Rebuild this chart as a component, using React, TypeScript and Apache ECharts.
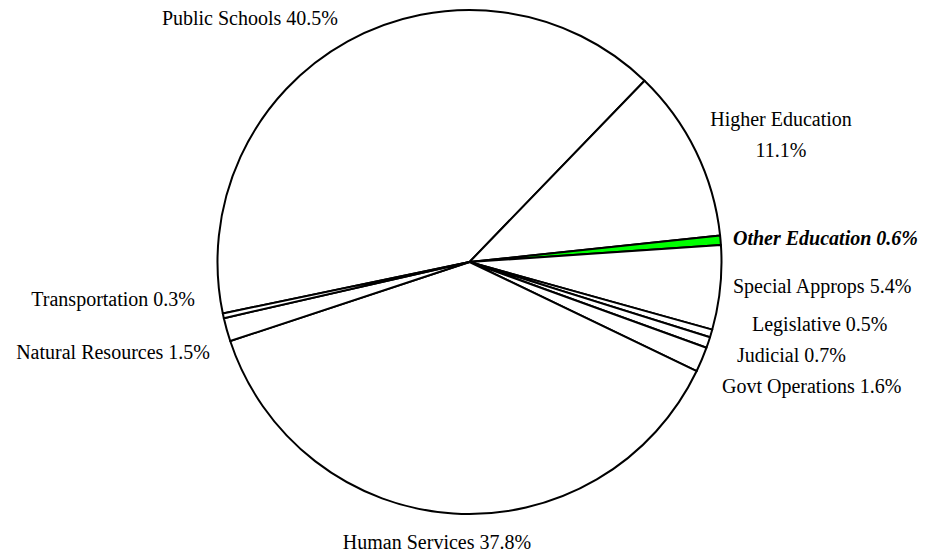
import React, { useEffect, useRef } from "react";
import * as echarts from "echarts";

// ---- data ----
const categories = [
  "Public Schools",
  "Higher Education",
  "Other Education",
  "Special Approps",
  "Legislative",
  "Judicial",
  "Govt Operations",
  "Human Services",
  "Natural Resources",
  "Transportation",
];
const shares = [40.5, 11.1, 0.6, 5.4, 0.5, 0.7, 1.6, 37.8, 1.5, 0.3];
const highlighted = "Other Education";
const twoLineLabels = ["Higher Education"];

// ---- label placement (layout, not data) ----
const LABEL_PLACE: Record<string, { x: number; y: number; align: string }> = {
  "Public Schools": { x: 338, y: 18, align: "right" },
  "Higher Education": { x: 781, y: 134, align: "center" },
  "Other Education": { x: 733, y: 238, align: "left" },
  "Special Approps": { x: 733, y: 286, align: "left" },
  Legislative: { x: 752, y: 324, align: "left" },
  Judicial: { x: 737, y: 355, align: "left" },
  "Govt Operations": { x: 722, y: 386, align: "left" },
  "Human Services": { x: 437, y: 542, align: "center" },
  "Natural Resources": { x: 210, y: 352, align: "right" },
  Transportation: { x: 195, y: 299, align: "right" },
};

const FONT = '"Liberation Serif", "Times New Roman", Times, serif';

export default function App() {
  const ref = useRef<HTMLDivElement>(null);

  useEffect(() => {
    document.body.style.margin = "0";
    if (!ref.current) return;
    const chart = echarts.init(ref.current, undefined, { renderer: "svg" });

    const data = categories.map((name, i) => {
      const v = shares[i];
      const isHi = name === highlighted;
      const text = twoLineLabels.includes(name)
        ? `${name}\n${v.toFixed(1)}%`
        : `${name} ${v.toFixed(1)}%`;
      return {
        name,
        value: v,
        itemStyle: { color: isHi ? "#00ff00" : "#ffffff" },
        label: {
          formatter: text,
          fontWeight: isHi ? "bold" : "normal",
          fontStyle: isHi ? "italic" : "normal",
        },
      };
    });

    chart.setOption({
      animation: false,
      backgroundColor: "#ffffff",
      series: [
        {
          type: "pie",
          center: [469.5, 262],
          radius: 252,
          startAngle: 191.8,
          clockwise: true,
          avoidLabelOverlap: false,
          silent: true,
          itemStyle: { borderColor: "#000000", borderWidth: 2 },
          label: {
            show: true,
            position: "outside",
            color: "#000000",
            fontFamily: FONT,
            fontSize: 20,
            lineHeight: 31,
          },
          labelLine: { show: false },
          labelLayout: (params: any) => {
            const name = categories[params.dataIndex];
            const p = LABEL_PLACE[name];
            if (!p) return {};
            return { x: p.x, y: p.y, align: p.align, verticalAlign: "middle" };
          },
          data,
        },
      ],
    });

    return () => chart.dispose();
  }, []);

  return <div ref={ref} style={{ width: 941, height: 554 }} />;
}
